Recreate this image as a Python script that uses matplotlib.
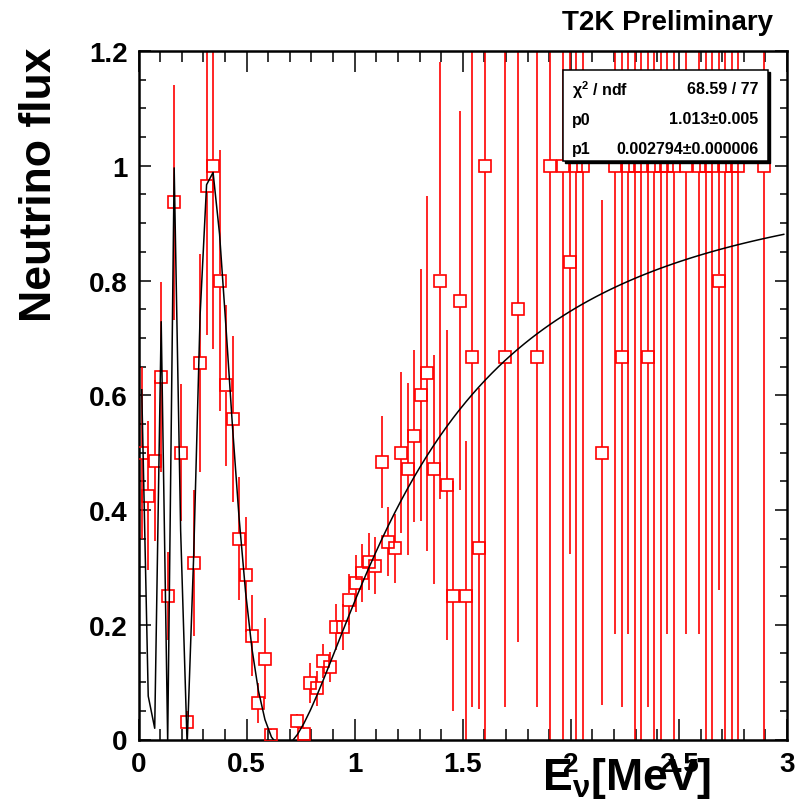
import numpy as np
import matplotlib
matplotlib.use("Agg")
import matplotlib.pyplot as plt
from matplotlib.ticker import MultipleLocator, FuncFormatter
from matplotlib.patches import Rectangle

# measured survival ratio per energy bin (bin centres, 0.03 MeV bins)
energy = [0.015, 0.045, 0.075, 0.105, 0.135, 0.165, 0.195, 0.225, 0.255, 0.285,
          0.315, 0.345, 0.375, 0.405, 0.435, 0.465, 0.495, 0.525, 0.555, 0.585,
          0.615, 0.735, 0.765, 0.795, 0.825, 0.855, 0.885, 0.915, 0.945, 0.975,
          1.005, 1.035, 1.065, 1.095, 1.125, 1.155, 1.185, 1.215, 1.245, 1.275,
          1.305, 1.335, 1.365, 1.395, 1.425, 1.455, 1.485, 1.515, 1.545, 1.575,
          1.605, 1.695, 1.755, 1.845, 1.905, 1.965, 1.995, 2.025, 2.055, 2.145,
          2.205, 2.235, 2.265, 2.295, 2.325, 2.355, 2.385, 2.415, 2.445, 2.475,
          2.535, 2.595, 2.625, 2.655, 2.685, 2.715, 2.745, 2.775, 2.895]
flux = [0.50, 0.425, 0.486, 0.632, 0.25, 0.936, 0.50, 0.03, 0.307, 0.657,
        0.965, 1.0, 0.80, 0.617, 0.559, 0.35, 0.287, 0.181, 0.064, 0.141,
        0.007, 0.032, 0.009, 0.098, 0.089, 0.137, 0.126, 0.196, 0.196, 0.244,
        0.272, 0.29, 0.31, 0.303, 0.484, 0.345, 0.333, 0.50, 0.472, 0.529,
        0.60, 0.638, 0.471, 0.80, 0.444, 0.25, 0.765, 0.25, 0.667, 0.333,
        1.0, 0.667, 0.75, 0.667, 1.0, 1.0, 0.833, 1.0, 1.0, 0.50,
        1.0, 0.667, 1.0, 1.0, 1.0, 0.667, 1.0, 1.0, 1.0, 1.0,
        1.0, 1.0, 1.0, 1.0, 0.80, 1.0, 1.0, 1.0, 1.0]
flux_err = [0.15, 0.13, 0.14, 0.165, 0.077, 0.205, 0.12, 0.02, 0.127, 0.19,
            0.26, 0.32, 0.228, 0.14, 0.145, 0.107, 0.10, 0.07, 0.035, 0.07,
            0.01, 0.012, 0.01, 0.035, 0.03, 0.03, 0.026, 0.04, 0.04, 0.045,
            0.05, 0.05, 0.05, 0.05, 0.08, 0.06, 0.06, 0.14, 0.15, 0.15,
            0.22, 0.31, 0.20, 0.38, 0.27, 0.20, 0.33, 0.27, 0.61, 0.28,
            1.0, 0.61, 0.58, 0.61, 1.0, 1.0, 0.51, 1.0, 1.0, 0.44,
            0.816, 0.61, 0.816, 1.0, 1.0, 0.61, 1.0, 1.0, 0.816, 1.0,
            0.816, 0.816, 1.0, 1.0, 0.54, 1.0, 1.0, 1.0, 1.0]

# fit result shown in the stats box
chi2_text = "68.59 / 77"
p0, p0_err = 1.013, 0.005
p1, p1_err = 0.002794, 0.000006
baseline_km = 295.0

fig = plt.figure(figsize=(7.95, 8.04), dpi=100)
ax = fig.add_axes([138.5 / 795, 1 - 740.5 / 804, (787 - 138.5) / 795, (740.5 - 52) / 804])

energy = np.array(energy)
flux = np.array(flux)
flux_err = np.array(flux_err)

red = "#ff0000"
gap = 0.0105  # half marker height in data units, bars stop at the box
ax.vlines(energy, flux + gap, flux + flux_err, color=red, lw=1.2, zorder=2)
ax.vlines(energy, np.maximum(flux - flux_err, 0), flux - gap, color=red, lw=1.2, zorder=2)
ax.plot(energy, flux, ls="none", marker="s", ms=8.6, mfc="none", mec=red,
        mew=1.2, zorder=3)

# fitted oscillation curve, drawn like ROOT with 100 samples
e_fit = (np.arange(100) + 0.5) * 0.03
surv = 1 - p0 * np.sin(1.27 * p1 * baseline_km / e_fit) ** 2
ax.plot(e_fit, surv, color="black", lw=1.1, zorder=4)

ax.set_xlim(0, 3)
ax.set_ylim(0, 1.2)

ax.xaxis.set_major_locator(MultipleLocator(0.5))
ax.xaxis.set_minor_locator(MultipleLocator(0.1))
ax.yaxis.set_major_locator(MultipleLocator(0.2))
ax.yaxis.set_minor_locator(MultipleLocator(0.05))
fmt = FuncFormatter(lambda v, p: "%g" % round(v, 3))
ax.xaxis.set_major_formatter(fmt)
ax.yaxis.set_major_formatter(fmt)

tick_font = {"family": "Liberation Sans", "weight": "bold", "size": 20}
ax.tick_params(axis="both", which="both", direction="in", top=True, right=True,
               width=1.1, color="black")
ax.tick_params(axis="x", which="major", length=15, pad=8)
ax.tick_params(axis="x", which="minor", length=7.7)
ax.tick_params(axis="y", which="major", length=8.5, pad=8)
ax.tick_params(axis="y", which="minor", length=5)
for lab in ax.get_xticklabels() + ax.get_yticklabels():
    lab.set_fontproperties(matplotlib.font_manager.FontProperties(**tick_font))

for sp in ax.spines.values():
    sp.set_linewidth(1.8)

fig.text(0.05, 0.77, "Neutrino flux", rotation=90, ha="center", va="center",
         family="Liberation Sans", weight="bold", fontsize=32)
fig.text(542 / 795, 1 - 790 / 804, "E$_\\mathregular{\u03bd}$[MeV]", ha="left",
         va="baseline", family="Liberation Sans", weight="bold", fontsize=32)
fig.text(773 / 795, 1 - 30 / 804, "T2K Preliminary", ha="right", va="baseline",
         family="Liberation Sans", weight="bold", fontsize=20)

# stats box
bx0, bx1 = 562.7 / 795, 767.7 / 795
by0, by1 = 1 - 161.7 / 804, 1 - 70.7 / 804
fig.patches.append(Rectangle((bx0 + 2 / 795, by0 - 2 / 804), bx1 - bx0, by1 - by0,
                             transform=fig.transFigure, facecolor="black",
                             edgecolor="black", zorder=10))
fig.patches.append(Rectangle((bx0, by0), bx1 - bx0, by1 - by0,
                             transform=fig.transFigure, facecolor="white",
                             edgecolor="black", lw=1.1, zorder=11))
rows = [("\u03c7$^\\mathregular{2}$ / ndf", chi2_text),
        ("p0", "%.3f\u00b1%.3f" % (p0, p0_err)),
        ("p1", "%.6f\u00b1%.6f" % (p1, p1_err))]
row_y = [1 - 90 / 804, 1 - 120 / 804, 1 - 149.3 / 804]
for (name, val), yy in zip(rows, row_y):
    fig.text(571.7 / 795, yy, name, ha="left", va="center", family="Liberation Sans",
             weight="bold", fontsize=11.5, zorder=12)
    fig.text(758.3 / 795, yy, val, ha="right", va="center", family="Liberation Sans",
             weight="bold", fontsize=11.5, zorder=12)

fig.savefig("out.png", dpi=100)
